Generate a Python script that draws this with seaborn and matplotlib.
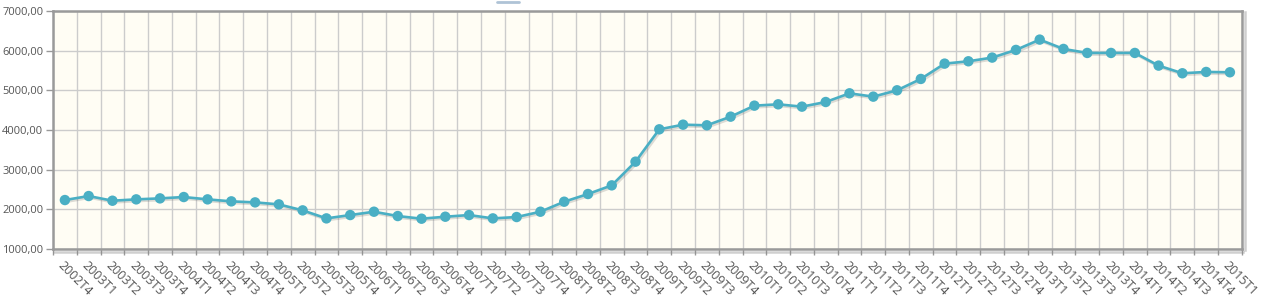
import matplotlib
matplotlib.use("Agg")
import matplotlib.pyplot as plt
import matplotlib.patheffects as pe
from matplotlib.ticker import FuncFormatter, FixedLocator
from matplotlib.lines import Line2D
import seaborn as sns
import pandas as pd
import numpy as np

quarters = ["2002T4",
            "2003T1", "2003T2", "2003T3", "2003T4",
            "2004T1", "2004T2", "2004T3", "2004T4",
            "2005T1", "2005T2", "2005T3", "2005T4",
            "2006T1", "2006T2", "2006T3", "2006T4",
            "2007T1", "2007T2", "2007T3", "2007T4",
            "2008T1", "2008T2", "2008T3", "2008T4",
            "2009T1", "2009T2", "2009T3", "2009T4",
            "2010T1", "2010T2", "2010T3", "2010T4",
            "2011T1", "2011T2", "2011T3", "2011T4",
            "2012T1", "2012T2", "2012T3", "2012T4",
            "2013T1", "2013T2", "2013T3", "2013T4",
            "2014T1", "2014T2", "2014T3", "2014T4",
            "2015T1"]
values = [2235,
          2336, 2218, 2252, 2277,
          2311, 2252, 2202, 2176,
          2126, 1975, 1773, 1857,
          1941, 1832, 1765, 1815,
          1857, 1773, 1807, 1941,
          2193, 2387, 2605, 3202,
          4017, 4134, 4118, 4336,
          4613, 4647, 4588, 4705,
          4924, 4840, 5000, 5286,
          5672, 5731, 5824, 6017,
          6277, 6042, 5941, 5941,
          5941, 5622, 5429, 5462,
          5454]
y_ticks = [1000, 2000, 3000, 4000, 5000, 6000, 7000]

df = pd.DataFrame({"quarter": quarters, "value": values})

sns.set_theme(style="white")
plt.rcParams["font.family"] = ["Open Sans", "DejaVu Sans"]

fig = plt.figure(figsize=(12.62, 3.03), dpi=100)
ax = fig.add_axes([0.042, 0.178, 0.942, 0.786])
ax.set_facecolor("#FFFDF4")

line_color = "#4AAFC4"
sns.lineplot(data=df, x="quarter", y="value", ax=ax, color=line_color,
             linewidth=1.9, marker="o", markersize=7.5, markeredgewidth=0,
             sort=False)
for ln in ax.get_lines():
    ln.set_path_effects([pe.SimpleLineShadow(offset=(1.0, -1.2), shadow_color="#555555", alpha=0.2),
                         pe.Normal()])
    ln.set_zorder(5)

n = len(quarters)
ax.set_xlim(-0.5, n - 0.5)
ax.set_ylim(y_ticks[0], y_ticks[-1])

# labels at category centers, tick marks / grid at boundaries
ax.xaxis.set_major_locator(FixedLocator(np.arange(n)))
ax.set_xticklabels(quarters, rotation=-45, ha="left", va="top",
                   rotation_mode="anchor", fontsize=9, color="#555555")
ax.xaxis.set_minor_locator(FixedLocator(np.arange(n + 1) - 0.5))
ax.tick_params(axis="x", which="major", length=0, pad=7)
ax.tick_params(axis="x", which="minor", length=4, width=1, color="#999999", bottom=True)
ax.grid(True, axis="x", which="minor", color="#CCCCCC", linewidth=1)
ax.grid(False, axis="x", which="major")

ax.set_yticks(y_ticks)
ax.yaxis.set_major_formatter(FuncFormatter(lambda v, p: f"{v:.2f}".replace(".", ",")))
ax.tick_params(axis="y", which="major", length=5, width=1, color="#999999", left=True,
               labelsize=8, labelcolor="#555555", pad=2)
ax.grid(True, axis="y", which="major", color="#CCCCCC", linewidth=1)

for side in ["left", "bottom", "top", "right"]:
    ax.spines[side].set_visible(True)
    ax.spines[side].set_color("#9A9A9A")
    ax.spines[side].set_linewidth(1.8)
ax.spines["right"].set_path_effects([pe.SimpleLineShadow(offset=(2, -1), shadow_color="#888888", alpha=0.4), pe.Normal()])
ax.spines["bottom"].set_path_effects([pe.SimpleLineShadow(offset=(1, -2), shadow_color="#888888", alpha=0.4), pe.Normal()])

ax.set_xlabel("")
ax.set_ylabel("")

# cut-off legend swatch at top
fig.add_artist(Line2D([497 / 1262, 519 / 1262], [1 - 2 / 303, 1 - 2 / 303],
                      color="#AFC3D6", linewidth=2, transform=fig.transFigure))

fig.savefig("out.png", dpi=100, facecolor="white")
